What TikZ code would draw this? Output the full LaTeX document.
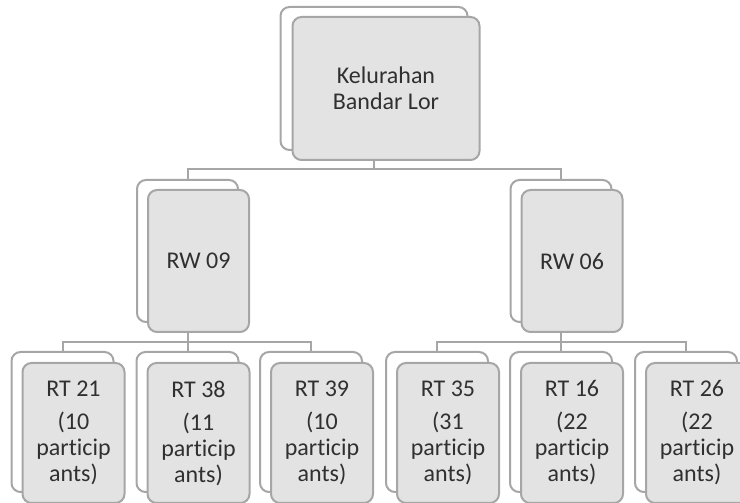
\documentclass[tikz,border=0pt]{standalone}
\usepackage{fontspec}
\setmainfont{Carlito}[Ligatures=NoCommon]
\usetikzlibrary{positioning}
\definecolor{boxline}{HTML}{A6A6A6}
\definecolor{boxfill}{HTML}{E3E3E3}
\definecolor{txtgray}{HTML}{303030}

\begin{document}
\begin{tikzpicture}[
    x=1pt, y=1pt,
    node distance=10pt and 11pt,
    back/.style={rectangle, draw=boxline, fill=white, line width=2pt, rounded corners=9pt, inner sep=0pt},
    front/.style={back, fill=boxfill, text=txtgray, align=center, font=\fontsize{24}{26}\selectfont},
    topbox/.style={minimum width=187pt, minimum height=143pt},
    rwbox/.style={minimum width=101pt, minimum height=142pt},
    rtbox/.style={minimum width=102pt, minimum height=140pt},
    link/.style={draw=boxline, line width=2pt}
]
    \useasboundingbox (0,0) rectangle (740,503);

    % back copies
    \node[back, topbox] (kel-b) at (374,424.5) {};
    \node[back, rwbox] (rw09-b) at (187.5,252) {};
    \node[back, rwbox] (rw06-b) at (561,252) {};
    \node[back, rtbox] (rt21-b) at (62.5,81) {};
    \node[back, rtbox] (rt38-b) at (187.5,81) {};
    \node[back, rtbox] (rt39-b) at (311,81) {};
    \node[back, rtbox] (rt35-b) at (437,81) {};
    \node[back, rtbox] (rt16-b) at (561,81) {};
    \node[back, rtbox] (rt26-b) at (686,81) {};

    % bus lines
    \coordinate (topbus) at (0,334);
    \coordinate (lowbus) at (0,161);

    \draw[link] (kel-b.south) -- (kel-b.south |- topbus) -| (rw09-b.north);
    \draw[link] (kel-b.south) -- (kel-b.south |- topbus) -| (rw06-b.north);

    \draw[link] (rw09-b.south) -- (rw09-b.south |- lowbus) -| (rt21-b.north);
    \draw[link] (rw09-b.south) -- (rw09-b.south |- lowbus) -| (rt38-b.north);
    \draw[link] (rw09-b.south) -- (rw09-b.south |- lowbus) -| (rt39-b.north);
    \draw[link] (rw06-b.south) -- (rw06-b.south |- lowbus) -| (rt35-b.north);
    \draw[link] (rw06-b.south) -- (rw06-b.south |- lowbus) -| (rt16-b.north);
    \draw[link] (rw06-b.south) -- (rw06-b.south |- lowbus) -| (rt26-b.north);

    % front boxes
    \node[front, topbox, on grid, below right=10pt and 12pt of kel-b] (kel) {Kelurahan\\Bandar Lor};
    \node[front, rwbox, on grid, below right=of rw09-b] (rw09) {RW 09};
    \node[front, rwbox, on grid, below right=of rw06-b] (rw06) {RW 06};

    \node[front, rtbox, on grid, below right=11pt and 11pt of rt21-b] (rt21) {RT 21\\[7pt](10\\particip\\ants)};
    \node[front, rtbox, on grid, below right=11pt and 11pt of rt38-b] (rt38) {RT 38\\[7pt](11\\particip\\ants)};
    \node[front, rtbox, on grid, below right=11pt and 11pt of rt39-b] (rt39) {RT 39\\[7pt](10\\particip\\ants)};
    \node[front, rtbox, on grid, below right=11pt and 11pt of rt35-b] (rt35) {RT 35\\[7pt](31\\particip\\ants)};
    \node[front, rtbox, on grid, below right=11pt and 11pt of rt16-b] (rt16) {RT 16\\[7pt](22\\particip\\ants)};
    \node[front, rtbox, on grid, below right=11pt and 11pt of rt26-b] (rt26) {RT 26\\[7pt](22\\particip\\ants)};

\end{tikzpicture}
\end{document}
